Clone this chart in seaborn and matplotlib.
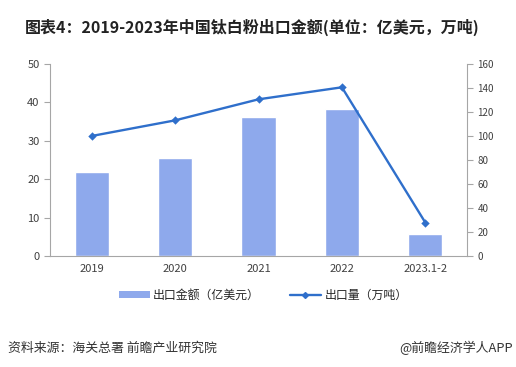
"""
China titanium dioxide exports 2019-2023.1-2: value (bars) and volume (line)
"""
import matplotlib
matplotlib.use("Agg")
import matplotlib.pyplot as plt
import seaborn as sns
import pandas as pd
from matplotlib.lines import Line2D
from matplotlib.patches import Patch

years = ["2019", "2020", "2021", "2022", "2023.1-2"]
export_value = [21.9, 25.6, 36.2, 38.3, 5.8]      # 亿美元
export_volume = [100.0, 113.0, 130.5, 140.5, 28.0]  # 万吨

bar_color = "#8EA9EC"
line_color = "#2F6FCB"
axis_color = "#A6A6A6"

sns.set_style("white")
plt.rcParams["font.family"] = ["Noto Sans CJK SC", "DejaVu Sans"]

df = pd.DataFrame({"year": years, "value": export_value, "volume": export_volume})

fig = plt.figure(figsize=(5.16, 3.67), dpi=100)
ax = fig.add_axes([0.097, 0.302, 0.808, 0.524])
sns.barplot(data=df, x="year", y="value", color=bar_color, width=0.41,
            saturation=1, ax=ax, errorbar=None)
ax.set_ylim(0, 50)
ax.set_yticks(range(0, 51, 10))
ax.set_xlim(-0.5, 4.5)
ax.set_xlabel("")
ax.set_ylabel("")

ax2 = ax.twinx()
sns.pointplot(data=df, x="year", y="volume", color=line_color, markers="D",
              markersize=3, linewidth=1.7, ax=ax2, errorbar=None)
ax2.set_ylim(0, 160)
ax2.set_yticks(range(0, 161, 20))
ax2.set_xlim(-0.5, 4.5)
ax2.set_ylabel("")
ax2.set_xlabel("")

for a in (ax, ax2):
    for s in a.spines.values():
        s.set_color(axis_color)
        s.set_linewidth(0.8)
    a.spines["top"].set_visible(False)
    a.tick_params(axis="both", colors="#404040", labelsize=8, length=4,
                  width=0.8, direction="out")
    a.tick_params(axis="both", color=axis_color)
ax.spines["right"].set_visible(False)
ax2.spines["left"].set_visible(False)
ax2.spines["bottom"].set_visible(False)
ax.tick_params(axis="y", left=True)
ax2.tick_params(axis="y", right=True, labelsize=7)

# x ticks between categories
ax.set_xticks(range(len(years)))
ax.set_xticklabels(years)
ax.tick_params(axis="x", length=0, pad=6)
ax.set_xticks([i - 0.5 for i in range(len(years) + 1)], minor=True)
ax.tick_params(axis="x", which="minor", length=4, color=axis_color, width=0.8)

fig.text(0.048, 0.925, "图表4：2019-2023年中国钛白粉出口金额(单位：亿美元，万吨)",
         fontsize=11.5, fontweight="bold", color="#222222", va="center")

handles = [Patch(facecolor=bar_color, edgecolor="none"),
           Line2D([], [], color=line_color, lw=1.7, marker="D", markersize=3)]
fig.legend(handles, ["出口金额（亿美元）", "出口量（万吨）"], loc="center",
           bbox_to_anchor=(0.51, 0.196), ncol=2, frameon=False, fontsize=8.6,
           handlelength=2.6, handleheight=0.5, columnspacing=2.5, handletextpad=0.3)

fig.text(0.015, 0.052, "资料来源：海关总署 前瞻产业研究院", fontsize=9.3,
         color="#333333", va="center")
fig.text(0.993, 0.052, "@前瞻经济学人APP", fontsize=9.3, color="#333333",
         va="center", ha="right")

fig.savefig("out.png", dpi=100)
plt.close()
